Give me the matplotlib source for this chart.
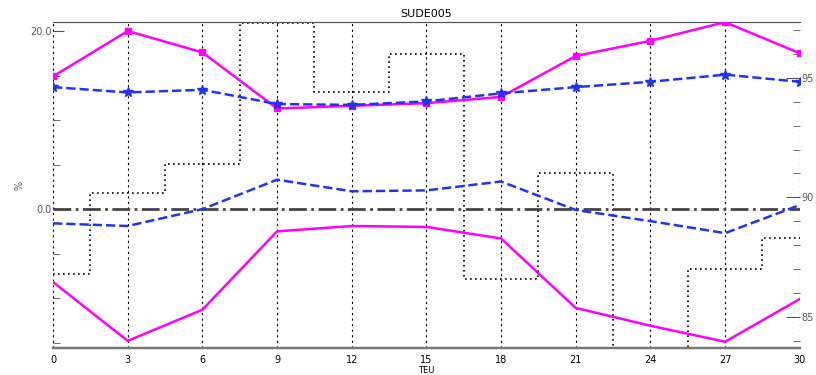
import numpy as np
import matplotlib.pyplot as plt

# data
days = [0, 3, 6, 9, 12, 15, 18, 21, 24, 27, 30]
upper_solid = [14.9, 20.0, 17.6, 11.3, 11.6, 11.9, 12.6, 17.2, 18.9, 21.0, 17.5]
upper_dash = [13.7, 13.1, 13.4, 11.8, 11.7, 12.1, 13.0, 13.7, 14.3, 15.1, 14.3]
lower_dash = [-1.6, -1.9, 0.0, 3.3, 2.0, 2.1, 3.1, -0.1, -1.35, -2.7, 0.45]
lower_solid = [-8.2, -14.8, -11.3, -2.5, -1.9, -2.0, -3.3, -11.1, -13.1, -14.9, -10.1]
step_vals = [86.8, 90.2, 91.4, 97.3, 94.4, 96.0, 86.6, 91.0, 83.7, 87.0, 88.3]

fig = plt.figure(figsize=(8.16, 3.75), dpi=100)
ax = fig.add_axes([0.065, 0.072, 0.915, 0.869])
ax2 = ax.twinx()

# right axis: dotted step series
ax2.step(days, step_vals, where='mid', color='black', linestyle=(0, (1, 2)), linewidth=1.2, zorder=1)
ax2.set_ylim(83.7, 97.33)
ax2.set_yticks([85, 90, 95])
ax2.set_yticks(np.arange(84, 98, 1), minor=True)
ax2.tick_params(axis='y', which='major', direction='in', length=10, labelsize=7, colors='#555555', pad=1)
ax2.tick_params(axis='y', which='minor', direction='in', length=5, colors='#555555')

ax.set_zorder(ax2.get_zorder() + 1)
ax.patch.set_visible(False)

for x in days:
    ax.axvline(x, color='black', linestyle=(0, (2, 3)), linewidth=0.8, zorder=1)

ax.axhline(0, color='#444444', linestyle='-.', linewidth=2, zorder=2)
ax.plot(days, upper_solid, color='magenta', linewidth=1.8, marker='s', markersize=4.5, zorder=3)
ax.plot(days, upper_dash, color='#2233ee', linestyle='--', linewidth=1.8, marker='*', markersize=7, zorder=4)
ax.plot(days, lower_dash, color='#2233ee', linestyle='--', linewidth=1.8, zorder=3)
ax.plot(days, lower_solid, color='magenta', linewidth=1.8, zorder=3)

ax.set_xlim(0, 30)
ax.set_ylim(-15.6, 21.0)
ax.set_xticks(days)
ax.set_yticks([0, 20])
ax.set_yticklabels(['0.0', '20.0'])
ax.set_yticks([-15, -10, -5, 5, 10, 15], minor=True)
ax.tick_params(axis='y', which='major', direction='in', length=8, labelsize=7, colors='#555555', pad=1)
ax.tick_params(axis='y', which='minor', direction='in', length=5, colors='#555555')
ax.tick_params(axis='x', direction='in', length=0, labelsize=7, pad=5)

for a in (ax, ax2):
    a.spines['left'].set_visible(False)
    a.spines['right'].set_visible(False)
    a.spines['top'].set_color('#555555')
    a.spines['bottom'].set_color('#777777')
    a.spines['bottom'].set_linewidth(1.6)

ax.set_title('SUDE005', fontsize=8, pad=4)
ax.set_ylabel('%', fontsize=7, color='#555555', labelpad=4)
ax.set_xlabel('TEU', fontsize=6, labelpad=1)

fig.savefig('out.png', dpi=100)
